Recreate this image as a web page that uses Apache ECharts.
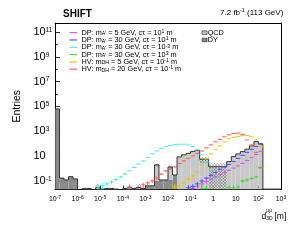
<!DOCTYPE html>
<html><head><meta charset="utf-8">
<script src="https://cdn.jsdelivr.net/npm/echarts@6/dist/echarts.min.js"></script>
<style>html,body{margin:0;padding:0;background:#fff}#c{width:293px;height:240px}</style>
</head><body><div id="c"></div>
<script>
// ---------------- data ----------------
// 50 bins, each 0.2 decade wide, from 1e-7 m to 1e3 m (d3D)
const BIN_W = 0.2, X_LO = -7, X_HI = 3;
const Y_LO = -1.69, Y_HI = 11.72;   // log10(Entries) axis range

const QCD = [0,0,0,0,0, 0,0.025,0.025,0,0.03, 0.022,0.025,0.025,0.022,0, 0.025,0.028,0.025,0.03,0.025,
  0,0,1.85,0,0, 1.2,0,8.6,12.6,16.6, 24,29,5.6,5.6,1.4, 1.4,1.4,1.4,3.6,9.1,
  15,23,36,66,148, 92,0.022,0.022,0.022,0.022];
const DY = [63000,0.17,0.12,0.22,0.145, 0,0,0,0,0, 0,0,0,0,0, 0,0,0,0,0,
  0.04,0.04,0.1,0.12,0.12, 0.12,0.3,0,0,0, 0,0,0,0,0, 0,0,0,0,0,
  0,0,0,0,0, 0,0,0,0,0];
const BKG_ERR = [0,0,0,0,0, 0,0,0,0,0.03, 0,0,0,0,0, 0,0,0,0.03,0,
  0,0,0.6,0,0, 0.5,0,0,0,0, 0,0,3,3,1.4, 1.4,1.4,1.4,0,0,
  0,0,0,0,0, 0,0,0,0,0];

// signals: first bin index + values per bin
const dp5ct1Start = 30;
const dp5ct1 = [0.025,0.036,0.058,0.091,0.145,0.21,0.33,0.49,0.71,1.1,1.6,2.6,4.5,7.9,13.8,24];
const dp30ct1Start = 29;
const dp30ct1 = [0.028,0.036,0.058,0.1,0.17,0.28,0.49,0.85,1.35,2.1,3.7,6.5,11.5,20,35,60,105];
const dp30ctm3Start = 9;
const dp30ctm3 = [0.033,0.044,0.058,0.083,0.13,0.21,0.36,0.65,1.2,2.3,4.1,7.9,15,26,42,60,72,85,91,91,79,60,32,12.6,3.4,0.78,0.14];
const dp30ct3Start = 32;
const dp30ct3 = [0.024,0.024,null,null,null,null,0.028,0.028,0.033,0.1,0.12,0.16,0.21,1.1];
const hv5Start = 26;
const hv5 = [0.033,0.04,0.069,0.145,0.25,0.53,1.95,5.9,15,35,66,141,245,324,389,447,468,355,204,55];
const hv20Start = 16;
const hv20 = [0.033,null,null,0.048,0.069,0.1,0.17,0.36,0.65,0.93,1.35,2.6,4.1,6.5,10.4,16.6,26,46,80,141,
  224,355,513,676,700,562,200,80,20,1.25];

const sigNames = [
  "DP: mA' = 5 GeV, ct = 10^1 m",
  "DP: mA' = 30 GeV, ct = 10^1 m",
  "DP: mA' = 30 GeV, ct = 10^-3 m",
  "DP: mA' = 30 GeV, ct = 10^3 m",
  "HV: mDH = 5 GeV, ct = 10^-1 m",
  "HV: mDH = 20 GeV, ct = 10^-1 m"
];
const sigLabels = [
  "DP: m{sub|A'} = 5 GeV, cτ = 10{sup|1} m",
  "DP: m{sub|A'} = 30 GeV, cτ = 10{sup|1} m",
  "DP: m{sub|A'} = 30 GeV, cτ = 10{sup|-3} m",
  "DP: m{sub|A'} = 30 GeV, cτ = 10{sup|3} m",
  "HV: m{sub|DH} = 5 GeV, cτ = 10{sup|-1} m",
  "HV: m{sub|DH} = 20 GeV, cτ = 10{sup|-1} m"
];
const sigColors = ['#d458f0', '#4a52ff', '#44eeee', '#44dd44', '#f5c400', '#ff5a5a'];
const sigStarts = [dp5ct1Start, dp30ct1Start, dp30ctm3Start, dp30ct3Start, hv5Start, hv20Start];
const sigVals = [dp5ct1, dp30ct1, dp30ctm3, dp30ct3, hv5, hv20];

const xTickExp = [-7,-6,-5,-4,-3,-2,-1,0,1,2,3];
const yLabelExp = [-1,1,3,5,7,9,11];
const yMinorExp = [0,2,4,6,8,10];

// ---------------- drawing ----------------
const FONT = 'Liberation Sans';
const NB = QCD.length;
const QCD_COLOR = '#c8c8c8', DY_COLOR = '#8a8a8a', LINE = '#333';
function lv(v) { return v > 0 ? Math.log10(v) : Y_LO; }
function edge(i) { return X_LO + i * BIN_W; }

const hc = document.createElement('canvas'); hc.width = 3; hc.height = 3;
(function () {
  const g = hc.getContext('2d');
  g.strokeStyle = 'rgba(60,60,60,0.55)'; g.lineWidth = 0.5;
  g.beginPath(); g.moveTo(0, 0); g.lineTo(3, 3); g.moveTo(3, 0); g.lineTo(0, 3); g.stroke();
})();
const hatch = { image: hc, repeat: 'repeat' };

const bkgData = QCD.map((q, i) => [edge(i) + BIN_W / 2, lv(q + DY[i]), i]);

function rectBetween(api, i, v0, v1, fill) {
  const a = api.coord([edge(i), v0]), b = api.coord([edge(i + 1), v1]);
  return { type: 'rect', shape: { x: a[0], y: b[1], width: b[0] - a[0], height: a[1] - b[1] }, style: { fill: fill } };
}

const dySeries = {
  name: 'DY', type: 'custom', z: 1, clip: true,
  itemStyle: { color: DY_COLOR },
  encode: { x: 0, y: 1 },
  data: bkgData,
  renderItem: function (params, api) {
    const i = api.value(2);
    if (!(DY[i] > 0)) return { type: 'group', children: [] };
    return rectBetween(api, i, Y_LO, lv(DY[i]), DY_COLOR);
  }
};

const qcdSeries = {
  name: 'QCD', type: 'custom', z: 2, clip: true,
  itemStyle: { color: QCD_COLOR },
  encode: { x: 0, y: 1 },
  data: bkgData,
  renderItem: function (params, api) {
    const i = api.value(2);
    const d = DY[i], q = QCD[i], t = d + q;
    const kids = [];
    if (q > 0) kids.push(rectBetween(api, i, d > 0 ? lv(d) : Y_LO, lv(t), QCD_COLOR));
    const e = BKG_ERR[i];
    if (e > 0) kids.push(rectBetween(api, i, lv(Math.max(t - e, 0)), lv(t + e), hatch));
    const prev = i > 0 ? DY[i - 1] + QCD[i - 1] : 0;
    const pts = [api.coord([edge(i), lv(prev)]), api.coord([edge(i), lv(t)]), api.coord([edge(i + 1), lv(t)])];
    if (i === NB - 1) pts.push(api.coord([edge(i + 1), Y_LO]));
    kids.push({ type: 'polyline', shape: { points: pts }, style: { stroke: LINE, lineWidth: 1, fill: null } });
    return { type: 'group', children: kids };
  }
};

const SIG_W = 0.01;
const sigSeries = sigNames.map((name, s) => {
  const data = [];
  sigVals[s].forEach((v, k) => {
    if (v != null) { const i = sigStarts[s] + k; data.push([edge(i) + BIN_W / 2, Math.log10(v), i, v]); }
  });
  const color = sigColors[s];
  return {
    name: name, type: 'custom', z: 3, clip: true,
    itemStyle: { color: color },
    encode: { x: 0, y: 1 },
    data: data,
    renderItem: function (params, api) {
      const i = api.value(2), v = api.value(3);
      const rel = Math.sqrt(SIG_W / v);
      const lo = v * (1 - Math.min(rel, 0.95)), hi = v * (1 + rel);
      const a = api.coord([edge(i), Math.log10(v)]), b = api.coord([edge(i + 1), Math.log10(v)]);
      const xc = edge(i) + BIN_W / 2;
      const c = api.coord([xc, Math.log10(hi)]), d = api.coord([xc, Math.max(Math.log10(lo), Y_LO)]);
      return { type: 'group', children: [
        { type: 'line', shape: { x1: a[0], y1: a[1], x2: b[0], y2: b[1] }, style: { stroke: color, lineWidth: 1 } },
        { type: 'line', shape: { x1: c[0], y1: c[1], x2: d[0], y2: d[1] }, style: { stroke: color, lineWidth: 1 } }
      ] };
    }
  };
});

function xFmt(v) {
  v = Math.round(v);
  if (v === 0) return '{b|1}';
  if (v === 1) return '{b|10}';
  return '{b|10}{s|' + v + '}';
}
function yFmt(v) {
  v = Math.round(v);
  if (v === 1) return '{b|10}';
  return '{b|10}{s|' + v + '}';
}

const chart = echarts.init(document.getElementById('c'), null, { renderer: 'canvas' });
chart.setOption({
  animation: false,
  backgroundColor: '#fff',
  textStyle: { fontFamily: FONT, color: '#000' },
  title: [
    { text: 'SHIFT', left: 63, top: 8.8, padding: 0,
      textStyle: { fontFamily: FONT, fontSize: 10, fontWeight: 'bold', lineHeight: 10, color: '#000' } },
    { text: '7.2 fb{s|-1} (113 GeV)', right: 9.7, top: 8.5, padding: 0,
      textStyle: { fontFamily: FONT, fontSize: 8, fontWeight: 'normal', lineHeight: 8, color: '#000',
        rich: { s: { fontSize: 5.3, lineHeight: 4, verticalAlign: 'top', fontFamily: FONT } } } }
  ],
  legend: [
    { orient: 'vertical', left: 69.5, top: 29, padding: 0, itemGap: 0, itemWidth: 7.5, itemHeight: 1.2,
      selectedMode: false, icon: 'rect',
      data: sigNames.map((n, s) => ({ name: n, icon: 'rect', itemStyle: { color: sigColors[s] } })),
      formatter: function (n) { return sigLabels[sigNames.indexOf(n)]; },
      textStyle: { fontFamily: FONT, fontSize: 7.3, lineHeight: 7.3, color: '#000', padding: [0, 0, 0, -0.5],
        rich: {
          sub: { fontSize: 5.2, lineHeight: 4, verticalAlign: 'bottom', fontFamily: FONT },
          sup: { fontSize: 5.2, lineHeight: 4, verticalAlign: 'top', fontFamily: FONT }
        } } },
    { orient: 'vertical', left: 201.7, top: 29, padding: 0, itemGap: 0, itemWidth: 5, itemHeight: 3.5,
      selectedMode: false,
      data: [
        { name: 'QCD', icon: 'rect', itemStyle: { color: QCD_COLOR, borderColor: LINE, borderWidth: 0.7 } },
        { name: 'DY', icon: 'rect', itemStyle: { color: DY_COLOR, borderColor: LINE, borderWidth: 0.7 } }
      ],
      textStyle: { fontFamily: FONT, fontSize: 7.3, lineHeight: 7.3, color: '#000', padding: [0, 0, 0, -4.4] } }
  ],
  grid: { left: 55, right: 12, top: 23, bottom: 50.5, containLabel: false },
  xAxis: [
    { type: 'value', min: X_LO, max: X_HI, position: 'bottom',
      axisLine: { show: true, onZero: false, lineStyle: { color: '#000', width: 1 } },
      axisTick: { show: true, inside: true, length: 4, customValues: xTickExp, lineStyle: { color: '#000', width: 0.8 } },
      axisLabel: { show: true, customValues: xTickExp, margin: 6, formatter: xFmt,
        rich: { b: { fontSize: 7, lineHeight: 8, fontFamily: FONT, color: '#000' },
                s: { fontSize: 5, lineHeight: 4, verticalAlign: 'top', fontFamily: FONT, color: '#000' } } },
      splitLine: { show: false } },
    { type: 'value', min: X_LO, max: X_HI, position: 'top',
      axisLine: { show: true, onZero: false, lineStyle: { color: '#000', width: 1 } },
      axisTick: { show: false }, axisLabel: { show: false }, splitLine: { show: false } }
  ],
  yAxis: [
    { type: 'value', min: Y_LO, max: Y_HI, position: 'left',
      name: 'Entries', nameLocation: 'middle', nameGap: 32.5,
      nameTextStyle: { fontFamily: FONT, fontSize: 10.5, color: '#000' },
      axisLine: { show: true, onZero: false, lineStyle: { color: '#000', width: 1 } },
      axisTick: { show: true, inside: true, length: 5, customValues: yLabelExp, lineStyle: { color: '#000', width: 0.8 } },
      axisLabel: { show: true, customValues: yLabelExp, align: 'left', margin: 21.5, formatter: yFmt,
        rich: { b: { fontSize: 11, lineHeight: 11, fontFamily: FONT, color: '#000' },
                s: { fontSize: 6.5, lineHeight: 6, verticalAlign: 'top', fontFamily: FONT, color: '#000' } } },
      splitLine: { show: false } },
    { type: 'value', min: Y_LO, max: Y_HI, position: 'left',
      axisLine: { show: false, onZero: false },
      axisTick: { show: true, inside: true, length: 3, customValues: yMinorExp, lineStyle: { color: '#000', width: 0.8 } },
      axisLabel: { show: false }, splitLine: { show: false } },
    { type: 'value', min: Y_LO, max: Y_HI, position: 'right',
      axisLine: { show: true, onZero: false, lineStyle: { color: '#000', width: 1 } },
      axisTick: { show: false }, axisLabel: { show: false }, splitLine: { show: false } }
  ],
  graphic: [
    { type: 'text', x: 261.5, y: 216.5, style: { text: 'd', fontFamily: FONT, fontSize: 8.5, fill: '#000', verticalAlign: 'middle', align: 'left' } },
    { type: 'text', x: 266.3, y: 210.8, style: { text: 'μμ', fontFamily: FONT, fontSize: 5, fill: '#000', verticalAlign: 'middle', align: 'left' } },
    { type: 'text', x: 266.3, y: 218.3, style: { text: '3D', fontFamily: FONT, fontSize: 5, fill: '#000', verticalAlign: 'middle', align: 'left' } },
    { type: 'text', x: 274.5, y: 217, style: { text: '[m]', fontFamily: FONT, fontSize: 8.5, fill: '#000', verticalAlign: 'middle', align: 'left' } }
  ],
  series: [dySeries, qcdSeries].concat(sigSeries)
});
</script></body></html>
